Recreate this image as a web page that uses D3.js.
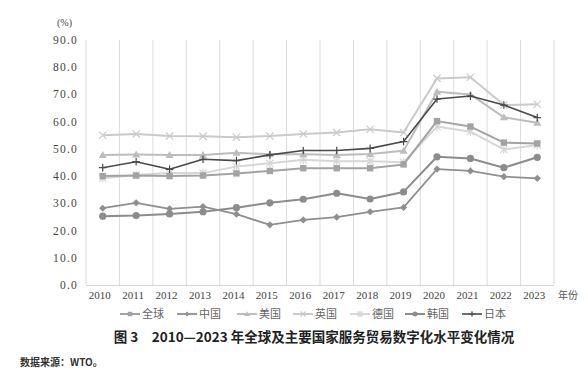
<!DOCTYPE html>
<html><head><meta charset="utf-8">
<script src="https://cdn.jsdelivr.net/npm/d3@7"></script>
<style>
body{margin:0;background:#fff;}
svg{display:block;}
.serif{font-family:"Liberation Serif","Times New Roman","DejaVu Serif",serif;}
.cjk{font-family:"Noto Sans CJK SC","Noto Sans",sans-serif;}
</style></head>
<body><svg id="chart" width="588" height="381"></svg>
<script>
const years = ["2010","2011","2012","2013","2014","2015","2016","2017","2018","2019","2020","2021","2022","2023"];
const yTicks = [0,10,20,30,40,50,60,70,80,90];
const seriesNames = ["全球","中国","美国","英国","德国","韩国","日本"];
const global  = [40.0,40.2,40.0,40.2,41.0,41.9,42.9,42.9,42.9,44.3,60.2,58.2,52.3,52.0];
const china   = [28.2,30.2,28.0,28.8,26.0,22.1,23.9,24.9,26.9,28.5,42.6,41.9,39.8,39.2];
const usa     = [47.8,47.9,47.8,47.8,48.6,48.0,48.0,47.8,48.1,49.3,71.0,70.0,61.6,59.6];
const uk      = [55.0,55.5,54.7,54.6,54.3,54.7,55.5,56.0,57.2,56.0,75.9,76.3,66.1,66.4];
const germany = [39.2,40.4,41.1,41.1,43.5,44.7,46.0,45.5,45.5,45.1,58.2,56.3,49.8,51.4];
const korea   = [25.3,25.5,26.1,26.9,28.4,30.2,31.5,33.7,31.6,34.2,47.1,46.5,43.1,46.9];
const japan   = [43.1,45.3,42.5,46.2,45.7,47.8,49.4,49.4,50.2,52.7,68.3,69.4,66.1,61.5];

const seriesValues = [global, china, usa, uk, germany, korea, japan];
const colors  = ["#a3a3a3","#8f8f8f","#bdbdbd","#cacaca","#d6d6d6","#8c8c8c","#4a4a4a"];
const markers = ["square","diamond","triangle","x","asterisk","circle","plus"];
const widths  = [2,1.8,2,2,2,2,1.6];

const svg = d3.select("#chart");
const m = {left:86, right:554, top:40, bottom:285};
const x = d3.scaleBand().domain(years).range([m.left, m.right]);
const y = d3.scaleLinear().domain([0,90]).range([m.bottom, m.top]);

const bounds = years.map(d => x(d)).concat([m.right]);
svg.append("g").selectAll("line").data(bounds).join("line")
  .attr("x1", d=>d).attr("x2", d=>d).attr("y1", y(90)).attr("y2", y(0))
  .attr("stroke","#dcdcdc").attr("stroke-width",1);
svg.append("line").attr("x1",m.left).attr("x2",m.right).attr("y1",y(0)+0.5).attr("y2",y(0)+0.5)
  .attr("stroke","#d4d4d4").attr("stroke-width",1);

svg.append("g").selectAll("text").data(yTicks).join("text")
  .attr("class","serif")
  .attr("x", 78).attr("y", d=>y(d)+4)
  .attr("text-anchor","end").attr("font-size",11.5)
  .attr("letter-spacing",1.2).attr("fill","#444")
  .text(d=>d.toFixed(1));
svg.append("text").attr("class","serif").attr("x",57).attr("y",26).attr("font-size",10)
  .attr("fill","#444").text("(%)");

svg.append("g").selectAll("text").data(years).join("text")
  .attr("class","serif")
  .attr("x", d=>x(d)+x.bandwidth()/2-3).attr("y", 299)
  .attr("text-anchor","middle").attr("font-size",11)
  .attr("fill","#444").text(d=>d);
svg.append("text").attr("class","cjk").attr("x",558).attr("y",299)
  .attr("font-size",10).attr("fill","#555").text("年份");

function drawMarker(g, type, cx, cy, color, s){
  s = s || 1;
  if(type==="square"){
    g.append("rect").attr("x",cx-3.2*s).attr("y",cy-3.2*s).attr("width",6.4*s).attr("height",6.4*s).attr("fill",color);
  } else if(type==="diamond"){
    g.append("path").attr("d",`M${cx},${cy-3.6*s}L${cx+3.6*s},${cy}L${cx},${cy+3.6*s}L${cx-3.6*s},${cy}Z`).attr("fill",color);
  } else if(type==="triangle"){
    g.append("path").attr("d",`M${cx},${cy-4*s}L${cx+4*s},${cy+3*s}L${cx-4*s},${cy+3*s}Z`).attr("fill",color);
  } else if(type==="circle"){
    g.append("circle").attr("cx",cx).attr("cy",cy).attr("r",3.6*s).attr("fill",color);
  } else if(type==="x"){
    const r=3.6*s;
    g.append("path").attr("d",`M${cx-r},${cy-r}L${cx+r},${cy+r}M${cx-r},${cy+r}L${cx+r},${cy-r}`).attr("stroke",color).attr("stroke-width",1.2);
  } else if(type==="asterisk"){
    const r=3.6*s;
    g.append("path").attr("d",`M${cx-r},${cy-r}L${cx+r},${cy+r}M${cx-r},${cy+r}L${cx+r},${cy-r}M${cx},${cy-r*1.2}L${cx},${cy+r*1.2}`).attr("stroke",color).attr("stroke-width",1.2);
  } else if(type==="plus"){
    const r=3.8*s;
    g.append("path").attr("d",`M${cx-r},${cy}L${cx+r},${cy}M${cx},${cy-r}L${cx},${cy+r}`).attr("stroke",color).attr("stroke-width",1.2);
  }
}

const line = d3.line().x((d,i)=>x(years[i])+x.bandwidth()/2).y(d=>y(d));
const order = [4,3,2,0,5,1,6];
order.forEach(si=>{
  const g = svg.append("g");
  g.append("path").datum(seriesValues[si]).attr("d",line).attr("fill","none")
    .attr("stroke",colors[si]).attr("stroke-width",widths[si]).attr("stroke-linejoin","round");
  seriesValues[si].forEach((v,i)=>drawMarker(g, markers[si], x(years[i])+x.bandwidth()/2, y(v), colors[si]));
});

const legX = [120,177,237,293,350,405,462];
const legY = 314;
seriesNames.forEach((name,i)=>{
  const g = svg.append("g");
  g.append("line").attr("x1",legX[i]).attr("x2",legX[i]+20).attr("y1",legY).attr("y2",legY)
    .attr("stroke",colors[i]).attr("stroke-width",widths[i]);
  drawMarker(g, markers[i], legX[i]+10, legY, colors[i], 0.7);
  g.append("text").attr("class","cjk").attr("x",legX[i]+22).attr("y",legY+4)
    .attr("font-size",11).attr("fill","#666").text(name);
});

svg.append("text").attr("class","cjk").attr("x",314).attr("y",342).attr("text-anchor","middle")
  .attr("font-size",13.5).attr("font-weight","bold").attr("fill","#222")
  .text("图 3　2010—2023 年全球及主要国家服务贸易数字化水平变化情况");
svg.append("text").attr("class","cjk").attr("x",20).attr("y",366)
  .attr("font-size",10).attr("font-weight","bold").attr("fill","#333")
  .text("数据来源：WTO。");
</script></body></html>
